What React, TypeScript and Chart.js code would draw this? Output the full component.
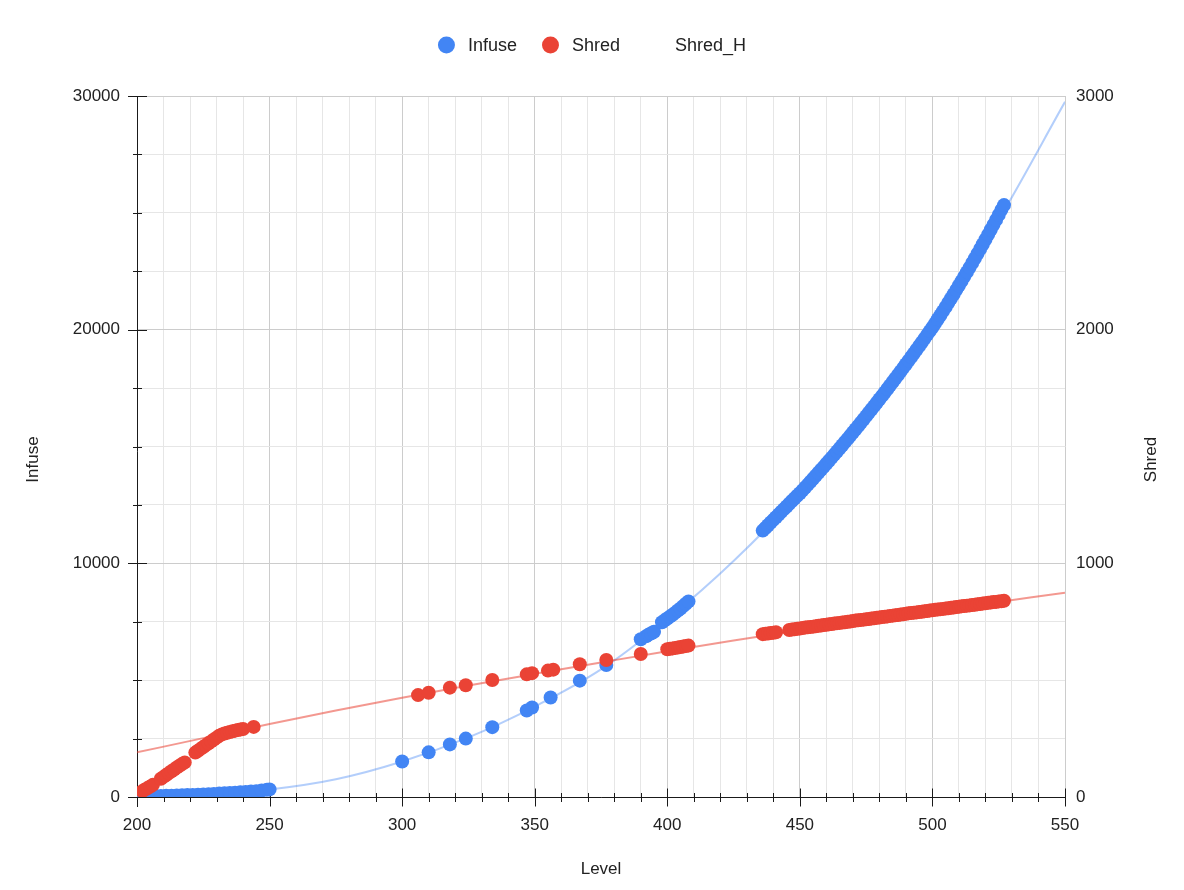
import { useEffect, useRef } from "react";
import { Chart, registerables } from "chart.js";

Chart.register(...registerables);

const FONT = '"Liberation Sans", Arial, Helvetica, sans-serif';
const TEXT = "#222222";
const BLUE = "#4285F4";
const RED = "#EA4335";

// ---------- Infuse (left axis) ----------
const infuseLevels = [
  201, 203, 205, 207, 209, 211, 213, 215, 217, 219, 221, 223, 225, 227, 229, 231, 233, 235, 237, 239, 241, 243, 245, 247, 249, 250,
  300, 310, 318, 324, 334, 347, 349, 356, 367, 377,
  390, 392, 393, 394, 395,
  398, 399, 400, 401, 402, 403, 404, 405, 406, 407, 408,
  436, 437, 438, 439, 440, 441, 442, 443, 444, 445, 446, 447, 448, 449, 450,
  451, 452, 453, 454, 455, 456, 457, 458, 459, 460, 461, 462, 463, 464, 465, 466, 467, 468, 469, 470,
  471, 472, 473, 474, 475, 476, 477, 478, 479, 480, 481, 482, 483, 484, 485, 486, 487, 488, 489, 490,
  491, 492, 493, 494, 495, 496, 497, 498, 499, 500, 501, 502, 503, 504, 505, 506, 507, 508, 509, 510,
  511, 512, 513, 514, 515, 516, 517, 518, 519, 520, 521, 522, 523, 524, 525, 526, 527,
];
const infuseValues = [
  20, 25, 30, 36, 42, 49, 56, 64, 72, 81, 90, 100, 110, 121, 133, 145, 158, 171, 185, 200, 216, 233, 251, 275, 305, 325,
  1520, 1910, 2250, 2500, 2990, 3700, 3830, 4260, 4980, 5650,
  6750, 6880, 6950, 7010, 7070,
  7480, 7560, 7640, 7720, 7800, 7890, 7980, 8070, 8170, 8270, 8370,
  11400, 11515, 11630, 11745, 11860, 11975, 12090, 12205, 12320, 12435, 12550, 12665, 12780, 12890, 13000,
  13122, 13246, 13370, 13494, 13620, 13746, 13874, 14002, 14130, 14260, 14390, 14522, 14654, 14786, 14920, 15054, 15190, 15326, 15462, 15600,
  15738, 15878, 16018, 16158, 16300, 16442, 16586, 16730, 16874, 17020, 17166, 17314, 17462, 17610, 17760, 17910, 18062, 18214, 18366, 18520,
  18674, 18830, 18986, 19142, 19300, 19458, 19618, 19778, 19938, 20100, 20271, 20444, 20618, 20794, 20972, 21152, 21334, 21518, 21703, 21890,
  22079, 22270, 22462, 22656, 22852, 23050, 23250, 23452, 23655, 23860, 24067, 24276, 24486, 24698, 24912, 25128, 25330,
];

// ---------- Shred (right axis) ----------
const shredLevels = [
  202, 203, 204, 205, 206,
  209, 210, 211, 212, 213, 214, 215, 216, 217, 218,
  222, 223, 224, 225, 226, 227, 228, 229, 230, 231, 232, 233, 234, 235, 236, 237, 238, 239, 240, 244,
  306, 310, 318, 324, 334, 347, 349, 355, 357, 367, 377, 390,
  400, 401, 402, 403, 404, 405, 406, 407, 408,
  436, 437, 438, 439, 440, 441,
  446, 447, 448, 449, 450, 451, 452, 453, 454, 455, 456, 457, 458, 459, 460, 461, 462, 463, 464, 465, 466,
  467, 468, 469, 470, 471, 472, 473, 474, 475, 476, 477, 478, 479, 480, 481, 482, 483, 484, 485, 486,
  487, 488, 489, 490, 491, 492, 493, 494, 495, 496, 497, 498, 499, 500, 501, 502, 503, 504, 505, 506,
  507, 508, 509, 510, 511, 512, 513, 514, 515, 516, 517, 518, 519, 520, 521, 522, 523, 524, 525, 526, 527,
];
const shredValues = [
  25, 32, 38, 45, 52,
  78, 86, 94, 102, 110, 118, 126, 134, 141, 148,
  190, 198, 206, 214, 222, 230, 238, 246, 254, 262, 268, 272, 275, 278, 281, 284, 287, 289, 291, 300,
  436, 446, 468, 478, 501, 525, 530, 541, 545, 568, 586, 612,
  632, 634, 636, 638, 640, 642, 644, 646, 648,
  697, 699, 700, 702, 703, 705,
  715, 717, 718, 720, 721, 723, 725, 726, 728, 729, 731, 733, 734, 736, 737, 739, 740, 742, 744, 745, 747,
  748, 750, 751, 753, 755, 756, 758, 759, 761, 762, 764, 765, 767, 768, 770, 771, 773, 775, 776, 778,
  779, 781, 782, 784, 786, 787, 789, 790, 792, 793, 795, 796, 798, 799, 801, 802, 804, 805, 807, 808,
  810, 811, 813, 814, 816, 817, 819, 820, 822, 823, 825, 826, 828, 829, 831, 832, 834, 835, 837, 838, 840,
];

// ---------- Trendlines ----------
const trendLevels = [200, 225, 250, 275, 300, 325, 350, 375, 400, 425, 450, 475, 500, 525, 550];
const infuseTrend = [0, 90, 320, 760, 1520, 2550, 3870, 5460, 7600, 10100, 13000, 16350, 20200, 24700, 29750];
const shredTrend = [191, 252, 312, 370, 425, 477, 527, 576, 624, 670, 714, 756, 796, 835, 874];

// ---------- Axis settings ----------
const xMin = 200;
const xMax = 550;
const xStep = 10;
const xLabelEvery = 50;
const yMin = 0;
const yMax = 30000;
const yStep = 2500;
const yLabelEvery = 10000;
const y2Min = 0;
const y2Max = 3000;
const y2Step = 1000;

const seriesLabels = ["Infuse", "Shred", "Shred_H"];
const axisTitles = { x: "Level", y: "Infuse", y2: "Shred" };

const pts = (xs: number[], ys: number[]) => xs.map((x, i) => ({ x, y: ys[i] }));

const isMult = (v: number, m: number) => Math.abs(Math.round(v / m) * m - v) < 1e-6;

const axesPlugin = {
  id: "gAxes",
  beforeDatasetsDraw(chart: any) {
    const { ctx, chartArea } = chart;
    const xs = chart.scales.x;
    const ys = chart.scales.y;
    const bx = Math.round(chartArea.left) + 0.5;
    const by = Math.round(chartArea.bottom) + 0.5;
    ctx.save();
    ctx.strokeStyle = "#1a1a1a";
    ctx.lineWidth = 1;
    ctx.beginPath();
    ctx.moveTo(bx, Math.round(chartArea.top));
    ctx.lineTo(bx, by + 9.5);
    ctx.moveTo(bx, by);
    ctx.lineTo(Math.round(chartArea.right) + 1, by);
    xs.ticks.forEach((t: any) => {
      const px = Math.round(xs.getPixelForValue(t.value)) + 0.5;
      const l = isMult(t.value, xLabelEvery) ? 9 : 4.5;
      ctx.moveTo(px, by - l);
      ctx.lineTo(px, by + l);
    });
    ys.ticks.forEach((t: any) => {
      const py = Math.round(ys.getPixelForValue(t.value)) + 0.5;
      const l = isMult(t.value, yLabelEvery) ? 9.5 : 4.5;
      ctx.moveTo(bx - l, py);
      ctx.lineTo(bx + l, py);
    });
    ctx.stroke();
    ctx.restore();
  },
  afterDraw(chart: any) {
    const { ctx, chartArea } = chart;
    ctx.save();
    // axis titles
    ctx.fillStyle = TEXT;
    ctx.font = `17px ${FONT}`;
    ctx.textAlign = "center";
    ctx.textBaseline = "middle";
    ctx.fillText(axisTitles.x, (chartArea.left + chartArea.right) / 2, 869);
    const midY = (chartArea.top + chartArea.bottom) / 2 + 13;
    ctx.save();
    ctx.translate(33, midY);
    ctx.rotate(-Math.PI / 2);
    ctx.fillText(axisTitles.y, 0, 0);
    ctx.restore();
    ctx.save();
    ctx.translate(1151, midY);
    ctx.rotate(-Math.PI / 2);
    ctx.fillText(axisTitles.y2, 0, 0);
    ctx.restore();

    // legend
    const items = chart.data.datasets
      .filter((d: any) => d.legendIndex !== undefined)
      .sort((a: any, b: any) => a.legendIndex - b.legendIndex)
      .map((d: any) => ({ label: d.label, color: d.legendColor }));
    ctx.font = `18px ${FONT}`;
    ctx.textAlign = "left";
    const r = 8.5;
    const gap = 13;
    const sep = 25;
    const widths = items.map((it: any) => 2 * r + gap + ctx.measureText(it.label).width);
    const total = widths.reduce((a: number, b: number) => a + b, 0) + sep * (items.length - 1);
    let x = (chart.width - total) / 2;
    const cy = 45;
    items.forEach((it: any, i: number) => {
      if (it.color) {
        ctx.fillStyle = it.color;
        ctx.beginPath();
        ctx.arc(x + r, cy, r, 0, Math.PI * 2);
        ctx.fill();
      }
      ctx.fillStyle = TEXT;
      ctx.fillText(it.label, x + 2 * r + gap, cy + 1);
      x += widths[i] + sep;
    });
    ctx.restore();
  },
};

export default function App() {
  const ref = useRef<HTMLCanvasElement | null>(null);

  useEffect(() => {
    if (!ref.current) return;
    const tickFont = { family: FONT, size: 17 };
    const chart = new Chart(ref.current, {
      type: "scatter",
      data: {
        datasets: [
          {
            label: seriesLabels[1],
            data: pts(shredLevels, shredValues),
            yAxisID: "y2",
            backgroundColor: RED,
            borderWidth: 0,
            pointRadius: 7,
            pointHoverRadius: 7,
            clip: 0,
            order: 0,
            legendIndex: 1,
            legendColor: RED,
          } as any,
          {
            label: seriesLabels[0],
            data: pts(infuseLevels, infuseValues),
            yAxisID: "y",
            backgroundColor: BLUE,
            borderWidth: 0,
            pointRadius: 7,
            pointHoverRadius: 7,
            clip: 0,
            order: 1,
            legendIndex: 0,
            legendColor: BLUE,
          } as any,
          {
            label: seriesLabels[2],
            data: [],
            yAxisID: "y2",
            pointRadius: 0,
            order: 1,
            legendIndex: 2,
            legendColor: null,
          } as any,
          {
            label: "Shred trend",
            data: pts(trendLevels, shredTrend),
            yAxisID: "y2",
            showLine: true,
            borderColor: "rgba(234,67,53,0.55)",
            borderWidth: 2,
            pointRadius: 0,
            cubicInterpolationMode: "monotone",
            clip: 0,
            order: 2,
          } as any,
          {
            label: "Infuse trend",
            data: pts(trendLevels, infuseTrend),
            yAxisID: "y",
            showLine: true,
            borderColor: "rgba(66,133,244,0.4)",
            borderWidth: 2,
            pointRadius: 0,
            cubicInterpolationMode: "monotone",
            clip: 0,
            order: 3,
          } as any,
        ],
      },
      options: {
        animation: false,
        responsive: false,
        maintainAspectRatio: false,
        events: [],
        layout: { padding: { top: 96, left: 0, right: 0, bottom: 0 } },
        plugins: {
          legend: { display: false },
          tooltip: { enabled: false },
        },
        scales: {
          x: {
            type: "linear",
            position: "bottom",
            min: xMin,
            max: xMax,
            ticks: {
              stepSize: xStep,
              maxTicksLimit: 1000,
              autoSkip: false,
              maxRotation: 0,
              minRotation: 0,
              padding: 18,
              color: TEXT,
              font: tickFont,
              callback: (v: any) => (isMult(Number(v), xLabelEvery) ? String(Math.round(Number(v))) : ""),
            },
            grid: {
              drawTicks: false,
              lineWidth: 1,
              color: (c: any) => (c.tick && isMult(c.tick.value, xLabelEvery) ? "#cccccc" : "#e6e6e6"),
            },
            border: { display: false },
            afterFit: (s: any) => {
              s.height = 93;
            },
          },
          y: {
            type: "linear",
            position: "left",
            min: yMin,
            max: yMax,
            ticks: {
              stepSize: yStep,
              maxTicksLimit: 1000,
              autoSkip: false,
              padding: 17,
              color: TEXT,
              font: tickFont,
              callback: (v: any) => (isMult(Number(v), yLabelEvery) ? String(Math.round(Number(v))) : ""),
            },
            grid: {
              drawTicks: false,
              lineWidth: 1,
              color: (c: any) => (c.tick && isMult(c.tick.value, yLabelEvery) ? "#cccccc" : "#e6e6e6"),
            },
            border: { display: false },
            afterFit: (s: any) => {
              s.width = 137;
            },
          },
          y2: {
            type: "linear",
            position: "right",
            min: y2Min,
            max: y2Max,
            ticks: {
              stepSize: y2Step,
              autoSkip: false,
              padding: 11,
              color: TEXT,
              font: tickFont,
              callback: (v: any) => String(Math.round(Number(v))),
            },
            grid: { display: false, drawTicks: false },
            border: { display: false },
            afterFit: (s: any) => {
              s.width = 119;
            },
          },
        },
      } as any,
      plugins: [axesPlugin],
    });
    return () => chart.destroy();
  }, []);

  return (
    <div style={{ position: "fixed", left: 0, top: 0, width: 1184, height: 890, background: "#ffffff" }}>
      <canvas ref={ref} width={1184} height={890} style={{ width: 1184, height: 890, display: "block" }} />
    </div>
  );
}
